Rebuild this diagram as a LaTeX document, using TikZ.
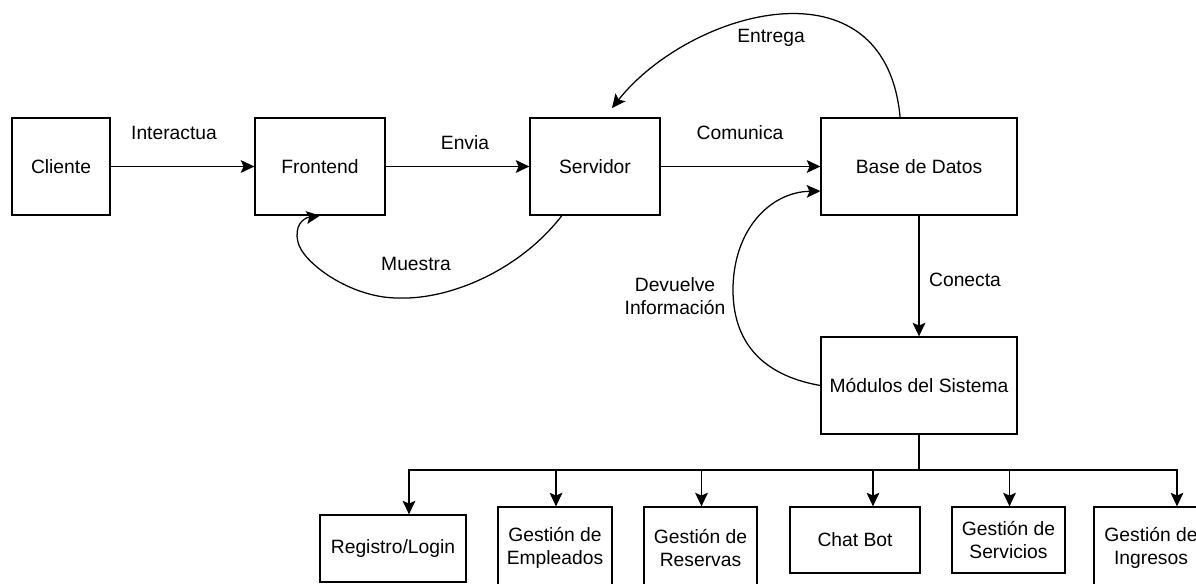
\documentclass[tikz,border=0pt]{standalone}
\usepackage{fontspec}
\setmainfont{Liberation Sans}
\usetikzlibrary{arrows.meta,calc}

\begin{document}
\begin{tikzpicture}[x=0.025cm,y=-0.025cm,
    every node/.style={font=\fontsize{13.7}{16.3}\selectfont},
    box/.style={draw, line width=0.9pt, inner sep=0pt, align=center},
    arr/.style={line width=0.9pt, -{Stealth[length=3.4mm,width=3.2mm,inset=0.7mm]}}]
      \useasboundingbox (0,0) rectangle (1196,584);
      \clip (0,0) rectangle (1196,584);

      % Main chain
      \node[box, minimum width=2.45cm, minimum height=2.425cm] (cliente) at (61,166.5) {Cliente};
      \node[box, minimum width=3.25cm, minimum height=2.425cm] (frontend) at (320,166.5) {Frontend};
      \node[box, minimum width=3.25cm, minimum height=2.425cm] (servidor) at (595,166.5) {Servidor};
      \node[box, minimum width=4.9cm, minimum height=2.425cm] (bd) at (919,166.5) {Base de Datos};
      \node[box, minimum width=4.9cm, minimum height=2.425cm] (modulos) at (919,385.5) {Módulos del Sistema};

      % Modules
      \node[box, minimum width=3.65cm, minimum height=1.675cm] (registro) at (393,548.5) {Registro/Login};
      \node[box, minimum width=2.85cm, minimum height=2.05cm] (empleados) at (555,548) {Gestión de\\Empleados};
      \node[box, minimum width=2.825cm, minimum height=2.05cm] (reservas) at (700.5,548) {Gestión de\\Reservas};
      \node[box, minimum width=3.25cm, minimum height=1.65cm] (chatbot) at (855,540) {Chat Bot};
      \node[box, minimum width=2.825cm, minimum height=1.65cm] (servicios) at (1008.5,540) {Gestión de\\Servicios};
      \node[box, minimum width=2.85cm, minimum height=2.05cm] (ingresos) at (1151,548) {Gestión de\\Ingresos};

      % Straight connectors
      \draw[arr] (cliente) -- (frontend);
      \draw[arr] (frontend) -- (servidor);
      \draw[arr] (servidor) -- (bd);
      \draw[arr] (bd) -- (modulos);

      % Curved connectors
      \coordinate (entregaFin) at (612,108);
      \draw[arr] (bd.111) .. controls (885,-45) and (690,10) .. (entregaFin);
      \draw[arr] (servidor.236) .. controls (520,270) and (450,300) .. (398,298)
        .. controls (350,298) and (302,262) .. (298,242)
        .. controls (294,226) and (303,218) .. (frontend.south);
      \draw[arr] (modulos.west) .. controls (760,375) and (733,340) .. (733,290)
        .. controls (733,230) and (770,192) .. (bd.194);

      % Bus to the modules
      \coordinate (bus) at (919,470);
      \draw[arr] (modulos.south) -- (bus) -| ($(registro.north)+(16,0)$);
      \draw[arr] (modulos.south) -- (bus) -| ($(empleados.north)+(1,0)$);
      \draw[arr] (modulos.south) -- (bus) -| ($(reservas.north)+(1,0)$);
      \draw[arr] (modulos.south) -- (bus) -| ($(chatbot.north)+(18,0)$);
      \draw[arr] (modulos.south) -- (bus) -| ($(servicios.north)+(1,0)$);
      \draw[arr] (modulos.south) -- (bus) -| ($(ingresos.north)+(26,0)$);

      % Labels
      \node (lInteractua) at (174,133) {Interactua};
      \node (lEnvia) at (465,143) {Envia};
      \node (lComunica) at (740,133) {Comunica};
      \node (lEntrega) at (771,38) {Entrega};
      \node (lMuestra) at (416,264) {Muestra};
      \node (lConecta) at (965,280) {Conecta};
      \node[align=center] (lDevuelve) at (675,296) {Devuelve\\Información};
    \end{tikzpicture}
\end{document}
